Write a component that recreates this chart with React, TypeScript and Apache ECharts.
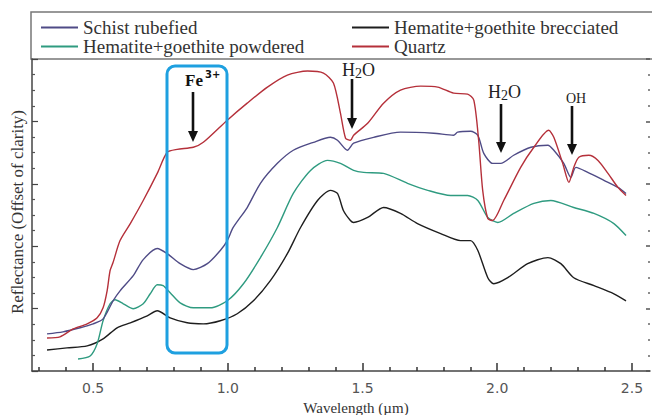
import React, { useEffect, useRef } from "react";
import * as echarts from "echarts";

// Wavelength (µm), reflectance (offset for clarity, arbitrary units)
const schistRubefied: [number, number][] = [
  [0.329, 2.38], [0.388, 2.51], [0.452, 2.77], [0.5, 3.02], [0.537, 3.34], [0.574, 4.5],
  [0.6, 5.14], [0.649, 6.11], [0.686, 7.14], [0.738, 7.85], [0.775, 7.52], [0.823, 6.88],
  [0.872, 6.5], [0.924, 6.88], [0.972, 7.72], [0.998, 8.36], [1.02, 9.2], [1.072, 10.48],
  [1.121, 12.03], [1.184, 13.31], [1.243, 14.15], [1.318, 14.66], [1.381, 14.98], [1.407, 14.79],
  [1.444, 14.15], [1.467, 14.6], [1.541, 14.98], [1.641, 15.31], [1.764, 15.24], [1.838, 15.11],
  [1.853, 15.31], [1.901, 15.37], [1.928, 15.11], [1.95, 13.95], [1.983, 13.31], [2.013, 13.31],
  [2.061, 13.83], [2.125, 14.34], [2.188, 14.47], [2.21, 14.15], [2.247, 13.31], [2.273, 12.41],
  [2.292, 13.05], [2.336, 12.73], [2.396, 12.22], [2.448, 11.77], [2.478, 11.38],
];

const hgBrecciated: [number, number][] = [
  [0.329, 1.35], [0.403, 1.48], [0.478, 1.61], [0.537, 2.06], [0.589, 2.77], [0.638, 3.09],
  [0.701, 3.54], [0.738, 3.86], [0.786, 3.41], [0.849, 3.09], [0.909, 3.02], [0.972, 3.22],
  [1.035, 3.67], [1.095, 4.5], [1.158, 5.79], [1.221, 7.52], [1.27, 9.2], [1.333, 10.93],
  [1.381, 11.58], [1.407, 11.38], [1.429, 10.29], [1.455, 9.65], [1.467, 9.52], [1.519, 9.84],
  [1.578, 10.48], [1.641, 10.1], [1.704, 9.45], [1.79, 8.81], [1.864, 8.36], [1.901, 8.36],
  [1.928, 7.72], [1.965, 5.98], [1.987, 5.59], [2.039, 5.98], [2.113, 6.88], [2.188, 7.27],
  [2.236, 6.88], [2.284, 5.98], [2.359, 5.47], [2.433, 4.95], [2.478, 4.5],
];

const hgPowdered: [number, number][] = [
  [0.444, 0.77], [0.489, 0.96], [0.515, 1.74], [0.537, 3.22], [0.563, 4.31], [0.582, 4.57],
  [0.612, 4.31], [0.649, 3.99], [0.686, 4.31], [0.712, 4.95], [0.738, 5.53], [0.76, 5.47],
  [0.786, 5.02], [0.823, 4.37], [0.872, 4.05], [0.935, 4.05], [0.998, 4.5], [1.058, 5.59],
  [1.121, 7.27], [1.184, 9.2], [1.243, 11.38], [1.307, 12.86], [1.37, 13.5], [1.418, 13.31],
  [1.467, 12.86], [1.504, 12.73], [1.578, 12.67], [1.667, 12.03], [1.742, 11.58], [1.827, 11.25],
  [1.89, 11.25], [1.928, 10.93], [1.965, 9.84], [2.002, 9.52], [2.061, 10.1], [2.136, 10.74],
  [2.199, 10.93], [2.284, 10.48], [2.359, 10.1], [2.433, 9.45], [2.478, 8.68],
];

const quartz: [number, number][] = [
  [0.329, 2.12], [0.377, 2.19], [0.426, 2.7], [0.478, 3.02], [0.515, 3.41], [0.537, 4.05],
  [0.552, 5.14], [0.563, 6.43], [0.574, 6.95], [0.6, 8.36], [0.638, 9.45], [0.686, 10.93],
  [0.738, 12.67], [0.775, 14.02], [0.812, 14.21], [0.872, 14.34], [0.909, 14.66], [0.998, 16.08],
  [1.072, 17.17], [1.147, 18.2], [1.221, 18.97], [1.296, 19.23], [1.355, 19.1], [1.392, 18.46],
  [1.418, 16.53], [1.437, 14.92], [1.455, 14.79], [1.467, 15.11], [1.519, 15.88], [1.578, 17.17],
  [1.641, 18.01], [1.716, 18.26], [1.779, 18.2], [1.838, 17.81], [1.89, 17.75], [1.913, 17.36],
  [1.931, 14.79], [1.946, 11.58], [1.965, 9.77], [1.983, 9.65], [2.024, 10.93], [2.087, 13.05],
  [2.136, 14.34], [2.191, 15.43], [2.21, 14.98], [2.243, 13.31], [2.266, 12.09], [2.284, 13.05],
  [2.303, 13.7], [2.34, 13.83], [2.374, 13.5], [2.411, 12.67], [2.448, 11.77], [2.478, 11.25],
];

const xMajorTicks = [0.5, 1.0, 1.5, 2.0, 2.5];
const xMinorTicks = [0.3, 0.4, 0.6, 0.7, 0.8, 0.9, 1.1, 1.2, 1.3, 1.4, 1.6, 1.7, 1.8, 1.9, 2.1, 2.2, 2.3, 2.4];
const xMin = 0.2732;
const xMax = 2.567;

const SERIF = "'Liberation Serif', 'Times New Roman', serif";

function arrow(x: number, y1: number, tip: number) {
  return [
    { type: "line", silent: true, shape: { x1: x, y1, x2: x, y2: tip - 8 }, style: { stroke: "#111", lineWidth: 2.6 } },
    {
      type: "polygon",
      silent: true,
      shape: { points: [[x - 5, tip - 11], [x + 5, tip - 11], [x, tip]] },
      style: { fill: "#111" },
    },
  ];
}

export default function App() {
  const ref = useRef<HTMLDivElement>(null);
  useEffect(() => {
    if (!ref.current) return;
    const chart = echarts.init(ref.current, undefined, { renderer: "svg" });
    const lineSeries = (name: string, data: [number, number][], color: string, z: number) => ({
      name,
      type: "line",
      data,
      color,
      showSymbol: false,
      symbol: "none",
      smooth: 0.25,
      z,
      lineStyle: { color, width: 1.4 },
    });
    const legendBase = {
      orient: "vertical",
      top: 18,
      padding: 0,
      itemGap: 0,
      itemWidth: 37,
      itemHeight: 2,
      icon: "rect",
      selectedMode: false,
      textStyle: { fontFamily: SERIF, fontSize: 19, color: "#333", lineHeight: 17 },
    };
    const h2oRich = {
      a: { fontFamily: SERIF, fontSize: 18, fill: "#222", lineHeight: 20, verticalAlign: "middle" },
      b: { fontFamily: SERIF, fontSize: 14, fill: "#222", lineHeight: 15, verticalAlign: "bottom" },
    };
    chart.setOption({
      animation: false,
      backgroundColor: "#fff",
      grid: { left: 32, right: 2, top: 59, bottom: 44, containLabel: false },
      legend: [
        { ...legendBase, left: 41, data: ["Schist rubefied", "Hematite+goethite powdered"] },
        { ...legendBase, left: 352, data: ["Hematite+goethite brecciated", "Quartz"] },
      ],
      xAxis: [
        {
          type: "value",
          min: xMin,
          max: xMax,
          position: "bottom",
          axisLine: { show: true, lineStyle: { color: "#444", width: 1.5 } },
          axisTick: { show: true, inside: true, length: 8, customValues: xMajorTicks, lineStyle: { color: "#333", width: 1.5 } },
          axisLabel: {
            customValues: xMajorTicks,
            formatter: (v: number) => v.toFixed(1),
            margin: 10,
            fontFamily: "'DejaVu Sans', sans-serif",
            fontSize: 14,
            color: "#555",
          },
          splitLine: { show: false },
        },
        {
          type: "value",
          min: xMin,
          max: xMax,
          position: "bottom",
          axisLine: { show: false },
          axisTick: { show: true, inside: true, length: 4, customValues: xMinorTicks, lineStyle: { color: "#333", width: 1.5 } },
          axisLabel: { show: false },
          splitLine: { show: false },
        },
      ],
      yAxis: [
        {
          type: "value",
          min: 0,
          max: 20,
          interval: 4,
          position: "left",
          axisLine: { show: true, lineStyle: { color: "#444", width: 1.5 } },
          axisTick: { show: true, inside: true, length: 6, lineStyle: { color: "#444", width: 1.2 } },
          minorTick: { show: true, splitNumber: 4, length: 3, lineStyle: { color: "#555", width: 1.2 } },
          axisLabel: { show: false },
          splitLine: { show: false },
        },
        {
          type: "value",
          min: 0,
          max: 20,
          interval: 4,
          position: "right",
          axisLine: { show: false },
          axisTick: { show: true, inside: true, length: 4, lineStyle: { color: "#555", width: 1.5 } },
          minorTick: { show: true, splitNumber: 4, length: 2, lineStyle: { color: "#666", width: 1.5 } },
          axisLabel: { show: false },
          splitLine: { show: false },
        },
      ],
      series: [
        lineSeries("Hematite+goethite brecciated", hgBrecciated, "#1e1e1e", 2),
        lineSeries("Hematite+goethite powdered", hgPowdered, "#2f9b80", 3),
        lineSeries("Schist rubefied", schistRubefied, "#4f4b86", 4),
        lineSeries("Quartz", quartz, "#b5303a", 5),
      ],
      graphic: [
        { type: "rect", silent: true, shape: { x: 31, y: 12, width: 640, height: 47 }, style: { fill: "none", stroke: "#777", lineWidth: 1.5 } },
        {
          type: "text",
          silent: true,
          x: 17,
          y: 212,
          rotation: Math.PI / 2,
          style: { text: "Reflectance (Offset of clarity)", align: "center", verticalAlign: "middle", fontFamily: SERIF, fontSize: 17, fill: "#333" },
        },
        {
          type: "text",
          silent: true,
          x: 356,
          y: 408,
          style: { text: "Wavelength (µm)", align: "center", verticalAlign: "middle", fontFamily: SERIF, fontSize: 15, fill: "#333" },
        },
        {
          type: "rect",
          silent: true,
          z: 10,
          shape: { x: 167, y: 66, width: 60, height: 287, r: 8 },
          style: { fill: "none", stroke: "#1ea0e0", lineWidth: 3 },
        },
        {
          type: "text",
          silent: true,
          x: 185,
          y: 80,
          style: { text: "Fe", align: "left", verticalAlign: "middle", fontFamily: SERIF, fontSize: 17, fontWeight: "bold", fill: "#111" },
        },
        {
          type: "text",
          silent: true,
          x: 205,
          y: 74,
          style: { text: "3+", align: "left", verticalAlign: "middle", fontFamily: "'DejaVu Sans', sans-serif", fontSize: 10, fontWeight: "bold", fill: "#111" },
        },
        ...arrow(193, 92, 142),
        {
          type: "text",
          silent: true,
          x: 342,
          y: 70,
          style: { text: "{a|H}{b|2}{a|O}", align: "left", verticalAlign: "middle", rich: h2oRich },
        },
        ...arrow(352, 79, 129),
        {
          type: "text",
          silent: true,
          x: 488,
          y: 92,
          style: { text: "{a|H}{b|2}{a|O}", align: "left", verticalAlign: "middle", rich: h2oRich },
        },
        ...arrow(501, 104, 153),
        {
          type: "text",
          silent: true,
          x: 576,
          y: 98,
          style: { text: "OH", align: "center", verticalAlign: "middle", fontFamily: SERIF, fontSize: 14, fill: "#222" },
        },
        ...arrow(572, 106, 155),
      ],
    });
    return () => chart.dispose();
  }, []);
  return <div ref={ref} style={{ width: 652, height: 415, position: "absolute", left: 0, top: 0 }} />;
}
